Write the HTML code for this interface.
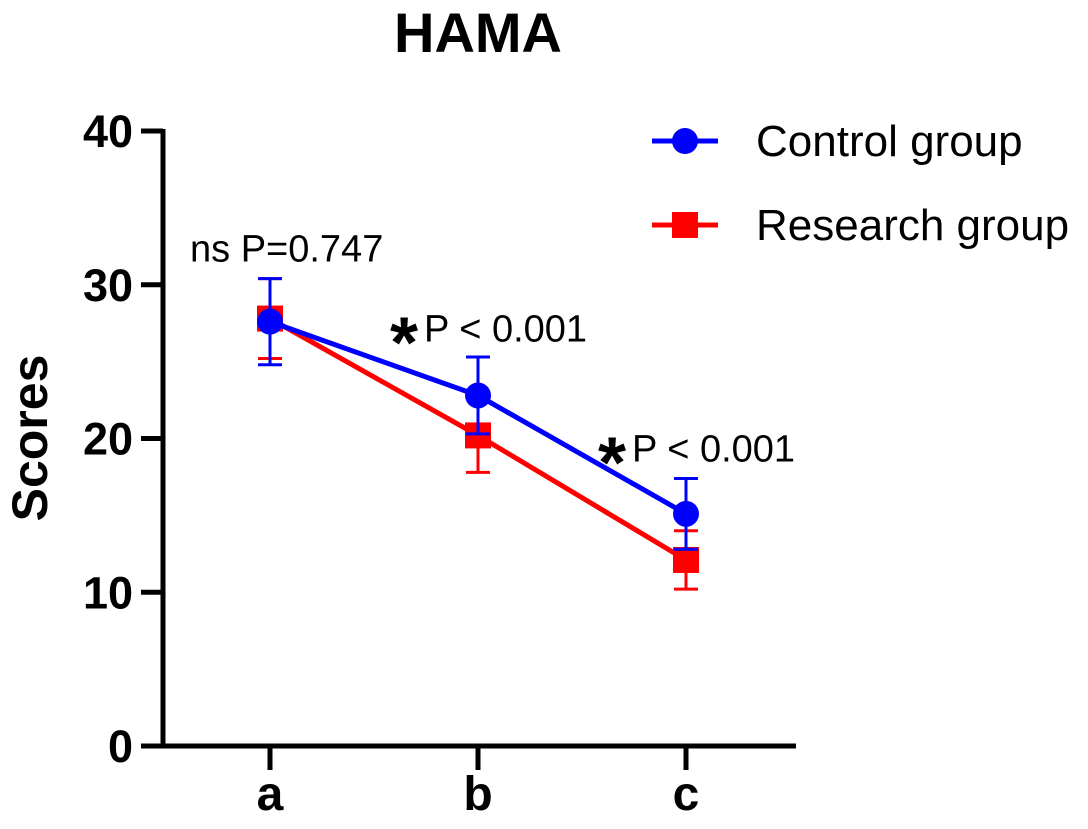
<!DOCTYPE html>
<html><head><meta charset="utf-8"><style>
body{margin:0;background:#fff}
svg text{font-family:"Liberation Sans",Arial,sans-serif}
</style></head><body>
<svg width="1088" height="824">
<g id="g"></g>
</svg>
<script>
const categories=["a","b","c"];
const controlMean=[27.6,22.8,15.1];
const controlSD=[2.8,2.5,2.3];
const researchMean=[27.8,20.2,12.1];
const researchSD=[2.6,2.4,1.9];
const yTicks=[0,10,20,30,40];
const annotations=[{x:0,y:31.5,t:"ns P=0.747",star:false},{x:1,y:26.3,t:"P < 0.001",star:true},{x:2,y:18.5,t:"P < 0.001",star:true}];
const NS="http://www.w3.org/2000/svg";
const g=document.getElementById('g');
const xs=i=>270+i*208;
const ys=v=>746-v*15.375;
function el(t,a,p){const e=document.createElementNS(NS,t);for(const k in a)e.setAttribute(k,a[k]);(p||g).appendChild(e);return e;}
let e;
e=el('text',{x:478,y:52,'text-anchor':'middle','font-size':56,'font-weight':'bold'});e.textContent='HAMA';


e=el('text',{transform:'translate(47,438) rotate(-90)','text-anchor':'middle','font-size':50,'font-weight':'bold'});e.textContent='Scores';


e=el('line',{x1:163,y1:129,x2:163,y2:748,stroke:'#000','stroke-width':5});


e=el('line',{x1:161,y1:746,x2:796,y2:746,stroke:'#000','stroke-width':5});


yTicks.forEach(v=>{
 e=el('line',{x1:141,y1:ys(v),x2:163,y2:ys(v),stroke:'#000','stroke-width':5});
 
 
 e=el('text',{x:133,y:ys(v)+16,'text-anchor':'end','font-size':45,'font-weight':'bold'});e.textContent=v;
 
 
});
categories.forEach((c,i)=>{
 e=el('line',{x1:xs(i),y1:746,x2:xs(i),y2:770,stroke:'#000','stroke-width':5});
 
 
 e=el('text',{x:xs(i),y:810,'text-anchor':'middle','font-size':48,'font-weight':'bold'});e.textContent=c;
 
 
});
function series(mean,sd,col,shape,name){
 const pts=mean.map((v,i)=>xs(i)+','+ys(v)).join(' ');
 mean.forEach((v,i)=>{
  const x=xs(i);
  e=el('path',{d:`M${x},${ys(v+sd[i])}V${ys(v-sd[i])}M${x-12},${ys(v+sd[i])}h24M${x-12},${ys(v-sd[i])}h24`,stroke:col,'stroke-width':3,fill:'none'});
  
  
 });
 e=el('polyline',{points:pts,stroke:col,'stroke-width':5,fill:'none'});
 
 
 mean.forEach((v,i)=>{
  if(shape==='c')e=el('circle',{cx:xs(i),cy:ys(v),r:13,fill:col});
  else e=el('rect',{x:xs(i)-13,y:ys(v)-13,width:26,height:26,fill:col});
  
  
 });
}
series(researchMean,researchSD,'#f00','s','research');
series(controlMean,controlSD,'#00f','c','control');
annotations.forEach(a=>{
 const x=xs(a.x)-80;
 e=el('text',{x:a.star?x+26:x,y:ys(a.y),'font-size':38});e.textContent=a.t;
 
 
 if(a.star){e=el('text',{x:x-8,y:ys(a.y)+26,'font-size':72,'font-weight':'bold'});e.textContent='*';
 
 }
});
[['Control group','#00f','c',141],['Research group','#f00','s',225]].forEach(l=>{
 e=el('line',{x1:652,y1:l[3],x2:718,y2:l[3],stroke:l[1],'stroke-width':5});
 
 
 if(l[2]==='c')e=el('circle',{cx:685,cy:l[3],r:13,fill:l[1]});
 else e=el('rect',{x:672,y:l[3]-13,width:26,height:26,fill:l[1]});
 
 
 e=el('text',{x:756,y:l[3]+15,'font-size':44});e.textContent=l[0];
 
 
});
</script>
</body></html>
